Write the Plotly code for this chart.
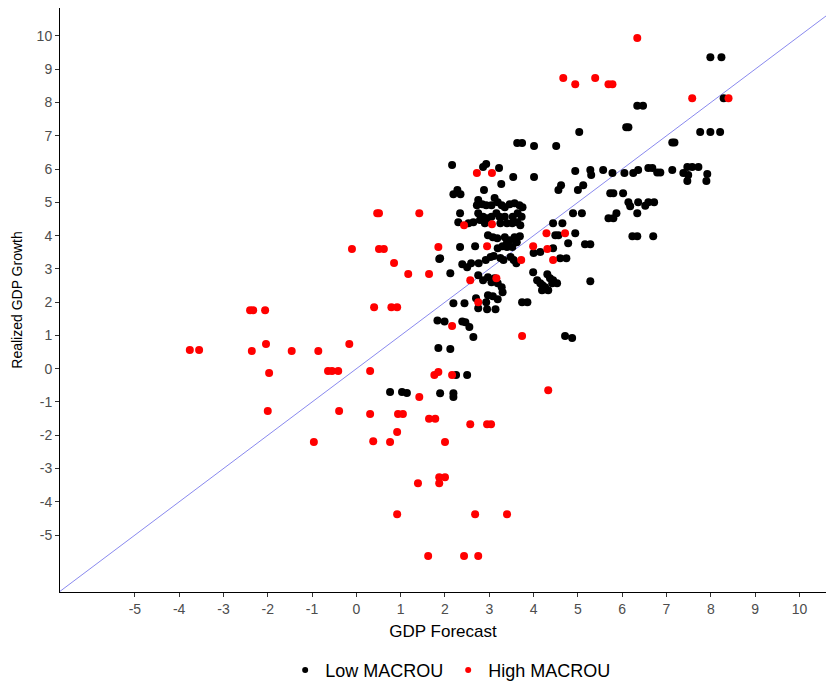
import plotly.graph_objects as go

# High MACROU (red)
high_x = [-3.76, -3.55, -2.40, -2.33, -2.06, -2.36, -2.04, -1.97, -2.00, -1.46,
          -0.86, -0.96, -0.64, -0.55, -0.41, -0.39, -0.16, -0.10, 0.31, 0.31,
          0.38, 0.76, 0.92, 0.94, 1.05, 0.40, 0.79, 0.92, 0.47, 0.51,
          1.42, 0.51, 0.62, 0.85, 1.17, 1.64, 1.85, 1.76, 1.85, 1.42,
          1.64, 1.78, 4.33, 2.57, 2.95, 3.04, 2.00, 1.87, 2.00, 1.87,
          1.39, 0.92, 2.68, 3.40, 1.62, 2.43, 2.75, 2.57, 3.16, 2.16,
          2.75, 3.74, 2.16, 2.72, 3.06, 2.43, 3.06, 2.95, 3.99, 4.29,
          4.31, 4.44, 3.72, 4.71, 6.34, 4.67, 4.94, 5.39, 5.69, 5.78,
          7.58, 8.40]
high_y = [0.56, 0.56, 1.76, 1.76, 1.76, 0.53, 0.74, -0.13, -1.27, 0.53,
          0.53, -2.20, -0.07, -0.07, -0.07, -1.27, 0.74, 3.60, -0.07, -1.36,
          -2.18, -2.20, -1.90, -1.36, -1.36, 1.85, 1.85, 1.85, 4.67, 4.67,
          4.67, 3.60, 3.60, 3.18, 2.85, 2.85, 3.66, -0.19, -0.10, -0.85,
          -1.50, -1.50, -0.65, -1.67, -1.67, -1.67, -2.20, -3.26, -3.26, -3.44,
          -3.44, -4.37, -4.37, -4.37, -5.63, -5.63, -5.63, 2.66, 2.72, 1.28,
          2.00, 0.98, -0.19, 5.88, 5.88, 4.31, 4.34, 3.68, 3.68, 4.07,
          3.60, 3.27, 3.27, 4.07, 9.94, 8.74, 8.55, 8.74, 8.55, 8.55,
          8.13, 8.13]

# Low MACROU (black)
low_x = [0.76, 1.03, 1.14, 1.89, 2.19, 2.19, 1.83, 1.99, 1.85, 2.12,
         1.87, 2.25, 2.50, 2.39, 2.46, 2.55, 2.64, 2.19, 2.44, 3.74,
         3.86, 4.71, 4.87, 2.12, 2.39, 2.50, 2.59, 2.76, 2.92, 3.03,
         3.10, 3.25, 3.32, 3.48, 3.55, 3.61, 4.00, 4.15, 2.75, 2.86,
         2.97, 3.05, 3.12, 3.19, 3.28, 3.30, 2.97, 3.08, 2.70, 2.93,
         2.75, 2.95, 3.14, 3.19, 3.99, 4.08, 4.15, 4.19, 4.26, 4.33,
         4.42, 4.31, 4.37, 4.44, 4.53, 4.60, 4.74, 4.44, 4.78, 5.16,
         5.28, 5.28, 4.49, 4.56, 4.94, 6.23, 6.34, 6.70, 4.44, 4.65,
         4.89, 5.09, 5.87, 5.80, 5.69, 6.34, 6.14, 6.18, 6.36, 6.52,
         6.59, 6.72, 5.73, 5.80, 6.02, 4.62, 4.56, 5.12, 5.00, 4.94,
         5.28, 5.30, 5.57, 5.78, 6.05, 6.25, 6.36, 6.59, 6.68, 6.79,
         6.86, 7.13, 7.47, 7.58, 7.72, 7.38, 7.49, 7.47, 7.92, 7.90,
         6.34, 6.47, 6.09, 6.14, 5.03, 7.76, 7.99, 8.21, 7.13, 7.18,
         7.99, 8.24, 8.29, 3.63, 3.74, 4.01, 4.51, 2.86, 2.93, 2.16,
         3.22, 3.54, 4.01, 3.27, 2.28, 2.19, 2.35, 2.88, 2.75, 2.72,
         2.84, 2.93, 3.05, 3.12, 3.19, 3.28, 3.35, 3.46, 3.57, 3.68,
         3.75, 2.75, 2.86, 2.95, 3.05, 3.16, 3.23, 3.35, 3.53, 3.64,
         3.73, 2.79, 2.90, 3.25, 3.40, 3.52, 3.63, 3.70, 2.34, 2.30,
         2.53, 2.64, 2.97, 3.08, 3.18, 3.35, 3.40, 3.46, 3.57, 3.62,
         2.34, 2.68, 3.19, 3.30, 3.40, 3.52, 1.89, 3.69, 4.20, 4.26]
low_y = [-0.70, -0.70, -0.73, -0.74, -0.74, -0.85, 1.45, 1.42, 0.62, 0.59,
         3.30, -0.19, -0.19, 1.42, 1.40, 1.25, 0.95, 1.97, 1.97, 2.00,
         2.00, 0.98, 0.92, 2.87, 3.14, 3.05, 3.17, 3.17, 3.27, 3.36,
         3.39, 3.33, 3.27, 3.36, 3.27, 3.17, 3.48, 3.51, 2.81, 2.66,
         2.75, 2.60, 2.72, 2.57, 2.45, 2.30, 2.21, 2.18, 2.12, 2.00,
         1.82, 1.79, 1.79, 2.09, 2.90, 2.66, 2.57, 2.36, 2.45, 2.36,
         2.57, 2.84, 2.72, 2.66, 2.57, 3.32, 3.32, 3.62, 3.77, 3.74,
         3.74, 2.63, 4.01, 4.01, 4.07, 3.98, 3.98, 3.98, 4.37, 4.37,
         4.67, 4.67, 4.67, 4.52, 4.52, 4.67, 5.00, 4.88, 5.00, 4.90,
         5.00, 5.00, 5.27, 5.27, 5.27, 5.51, 5.37, 5.51, 5.37, 5.94,
         5.97, 5.82, 5.97, 5.88, 5.88, 5.88, 5.97, 6.03, 6.03, 5.90,
         5.90, 5.97, 6.06, 6.06, 6.06, 5.88, 5.82, 5.64, 5.85, 5.64,
         7.90, 7.90, 7.26, 7.26, 7.11, 7.11, 7.11, 7.11, 6.80, 6.80,
         9.36, 9.36, 8.13, 6.78, 6.78, 6.69, 6.69, 6.06, 6.15, 6.12,
         6.03, 5.76, 5.76, 5.55, 5.37, 5.24, 5.24, 5.37, 5.07, 4.91,
         4.94, 4.91, 4.91, 5.13, 5.00, 4.91, 4.85, 4.94, 4.97, 4.91,
         4.85, 4.67, 4.57, 4.52, 4.57, 4.67, 4.57, 4.57, 4.57, 4.67,
         4.57, 4.47, 4.37, 4.37, 4.37, 4.37, 4.40, 4.31, 4.67, 4.40,
         4.37, 4.40, 4.01, 3.95, 3.92, 3.95, 3.80, 3.86, 3.95, 3.80,
         3.66, 3.68, 3.62, 3.68, 3.66, 3.66, 3.32, 3.98, 2.51, 2.39]

x_range = [-6.69, 10.6]
y_range = [-6.71, 10.84]
ticks = list(range(-5, 11))
tick_labels = [str(v) for v in ticks]

fig = go.Figure()
fig.add_trace(go.Scatter(x=x_range, y=x_range, mode="lines",
                         line=dict(color="rgba(80,80,230,0.85)", width=0.8),
                         showlegend=False, hoverinfo="skip"))
fig.add_trace(go.Scatter(x=low_x, y=low_y, mode="markers", name="Low MACROU",
                         marker=dict(color="black", size=8), showlegend=False))
fig.add_trace(go.Scatter(x=high_x, y=high_y, mode="markers", name="High MACROU",
                         marker=dict(color="red", size=8), showlegend=False))
# legend entries with small markers
fig.add_trace(go.Scatter(x=[None], y=[None], mode="markers", name="Low MACROU",
                         marker=dict(color="black", size=6)))
fig.add_trace(go.Scatter(x=[None], y=[None], mode="markers", name="High MACROU",
                         marker=dict(color="red", size=6)))

axis_common = dict(showgrid=False, zeroline=False, showline=True, linecolor="black",
                   linewidth=1, ticks="outside", ticklen=4, tickcolor="#333333",
                   tickfont=dict(size=14, color="#4d4d4d"),
                   tickmode="array", tickvals=ticks, ticktext=tick_labels,
                   automargin=False)
fig.update_xaxes(range=x_range,
                 title=dict(text="GDP Forecast", font=dict(size=17, color="black"), standoff=9),
                 **axis_common)
fig.update_yaxes(range=y_range,
                 title=dict(text="Realized GDP Growth", font=dict(size=14, color="black"), standoff=10),
                 **axis_common)

fig.update_layout(
    width=827, height=686,
    margin=dict(l=60, r=1, t=8, b=94, autoexpand=False),
    paper_bgcolor="white", plot_bgcolor="white",
    font=dict(family="Liberation Sans, Arial, sans-serif"),
    legend=dict(orientation="h", x=0.51, xanchor="center",
                yref="container", y=0.05, yanchor="top",
                font=dict(size=18, color="black"), itemwidth=30),
)

fig.write_html("out.html")
